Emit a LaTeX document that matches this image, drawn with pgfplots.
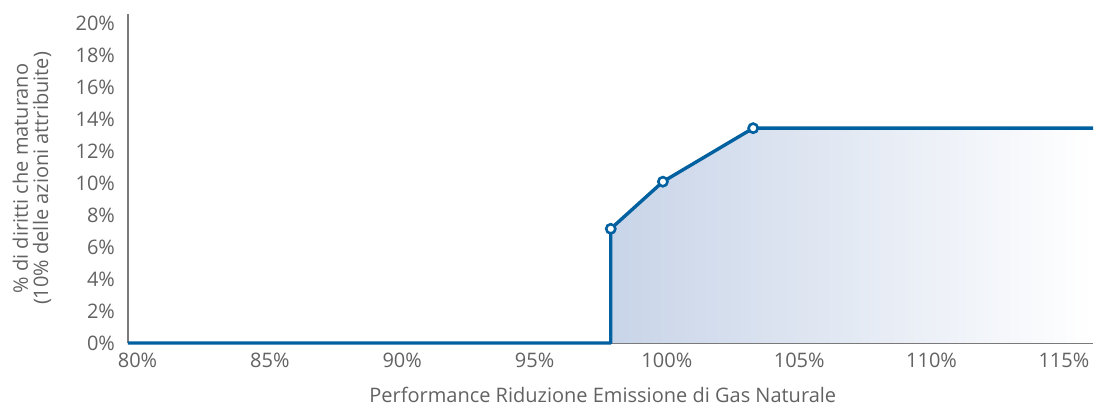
\documentclass[border=0pt]{standalone}
\usepackage{pgfplots}
\pgfplotsset{compat=1.18}
\usepackage{fontspec}
\setmainfont{Open Sans}
\definecolor{lineblue}{HTML}{0060A0}
\definecolor{fillblue}{HTML}{C8D4E8}
\definecolor{txtgray}{HTML}{626262}
\definecolor{axgray}{HTML}{7A7A7A}
\begin{document}
\begin{tikzpicture}
\pgfplotstableread{
x y
79.64 0
97.88 0
97.88 7.15
99.85 10.1
103.26 13.45
116.1 13.45
}\datatable
\begin{axis}[
  scale only axis,
  width=482.5pt, height=164.5pt,
  xmin=79.64, xmax=116.1,
  ymin=0, ymax=20.6,
  axis lines*=left,
  axis line style={draw=axgray, line width=0.6pt, -},
  xtick={80,85,...,115},
  ytick={0,2,...,20},
  major tick length=0pt,
  xticklabel={\pgfmathprintnumber{\tick}\%},
  yticklabel={\pgfmathprintnumber{\tick}\%},
  /pgf/number format/assume math mode=true,
  tick label style={font=\fontsize{10}{12}\selectfont, text=txtgray},
  xticklabel style={yshift=-1.5pt},
  yticklabel style={xshift=-3pt},
  xlabel={Performance Riduzione Emissione di Gas Naturale},
  xlabel style={font=\fontsize{10}{12}\selectfont, text=txtgray, at={(axis description cs:0.492,0)}, anchor=center, yshift=-26pt},
  ylabel={\% di diritti che maturano\\(10\% delle azioni attribuite)},
  ylabel style={font=\fontsize{10}{10.2}\selectfont, text=txtgray, align=center, at={(axis description cs:-0.0995,0.5)}, anchor=center},
  clip=false,
]
\addplot[draw=none, shade, shading angle=0, left color=fillblue, right color=white] coordinates {
(97.88,0) (97.88,7.15) (99.85,10.1) (103.26,13.45) (116.1,13.45) (116.1,0)
} -- cycle;
\addplot[lineblue, line width=1.7pt, line join=round] table[x=x,y=y] {\datatable};
\addplot[only marks, mark=*, mark size=2.3pt, mark options={fill=white, draw=lineblue, line width=1.3pt}] coordinates {
(97.88,7.15) (99.85,10.1) (103.26,13.45)
};
\coordinate (sw) at (rel axis cs:0,0);
\coordinate (ne) at (rel axis cs:1,1);
\end{axis}
\pgfresetboundingbox
\path ([xshift=-64pt,yshift=-31.5pt]sw) rectangle ([xshift=1.5pt,yshift=7pt]ne);
\end{tikzpicture}
\end{document}
